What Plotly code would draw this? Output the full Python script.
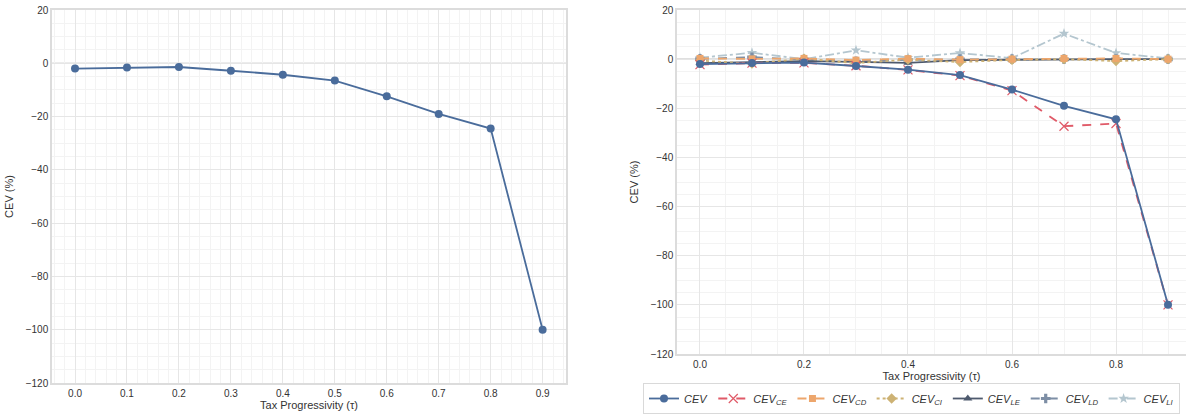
import plotly.graph_objects as go

tau = [0.0, 0.1, 0.2, 0.3, 0.4, 0.5, 0.6, 0.7, 0.8, 0.9]
cev = [-2.0, -1.6, -1.4, -2.8, -4.3, -6.5, -12.4, -19.0, -24.5, -100.0]
cev_ce = [-2.2, -1.6, -1.5, -2.7, -4.4, -6.7, -12.8, -27.3, -26.2, -100.0]
cev_cd = [0.3, 0.1, 0.3, -0.4, 0.2, -0.2, 0.0, 0.3, 0.3, 0.0]
cev_ci = [-0.6, -1.8, 0.2, -1.6, -0.2, -1.2, -0.3, 0.0, -0.8, 0.0]
cev_le = [-1.6, -1.3, -0.8, -1.1, -1.5, -0.4, -0.2, 0.0, 0.0, 0.0]
cev_ld = [0.1, 0.8, -0.2, -0.9, -0.3, 0.0, 0.0, 0.0, 0.0, 0.0]
cev_li = [0.6, 2.6, 0.0, 3.6, 0.6, 2.5, 0.4, 10.4, 2.5, 0.3]

left_ticks = [0.0, 0.1, 0.2, 0.3, 0.4, 0.5, 0.6, 0.7, 0.8, 0.9]
right_ticks = [0.0, 0.2, 0.4, 0.6, 0.8]
y_ticks = [20, 0, -20, -40, -60, -80, -100, -120]

W, H = 1186, 415
font = "Liberation Sans, Arial, sans-serif"

series = [
    ("<i>CEV</i>", cev, "#4a6c9b", "solid", "circle", 8),
    ("<i>CEV</i><sub><i>CE</i></sub>", cev_ce, "#e05a68", "dash", "x-thin-open", 9),
    ("<i>CEV</i><sub><i>CD</i></sub>", cev_cd, "#eda66c", "dash", "square", 7),
    ("<i>CEV</i><sub><i>CI</i></sub>", cev_ci, "#cdb274", "dot", "diamond", 8),
    ("<i>CEV</i><sub><i>LE</i></sub>", cev_le, "#4e5a6e", "solid", "triangle-up", 8),
    ("<i>CEV</i><sub><i>LD</i></sub>", cev_ld, "#7d8ea5", "dash", "cross", 8),
    ("<i>CEV</i><sub><i>LI</i></sub>", cev_li, "#b4c6cf", "dashdot", "star", 8),
]

fig = go.Figure()

fig.add_trace(go.Scatter(x=tau, y=cev, mode="lines+markers", showlegend=False,
                         line=dict(color="#4a6c9b", width=1.8),
                         marker=dict(symbol="circle", size=8, color="#4a6c9b"),
                         xaxis="x", yaxis="y"))

names = [s[0] for s in series]
for name, vals, col, dash, sym, sz in reversed(series):
    mk = dict(symbol=sym, size=sz, color=col)
    if sym == "x-thin-open":
        mk["line"] = dict(color=col, width=1.2)
    fig.add_trace(go.Scatter(x=tau, y=vals, mode="lines+markers", name=name,
                             line=dict(color=col, width=1.8, dash=dash),
                             marker=mk, xaxis="x2", yaxis="y2",
                             legendrank=names.index(name)))

axis_common = dict(
    showgrid=True, gridcolor="#e6e6e6", gridwidth=1,
    showline=True, linecolor="#dcdcdc", linewidth=1.5,
    ticks="", zeroline=False, automargin=False,
    tickfont=dict(family=font, size=10, color="#333333"),
)

fig.update_layout(
    width=W, height=H,
    margin=dict(l=0, r=0, t=0, b=0, autoexpand=False),
    paper_bgcolor="white", plot_bgcolor="white",
    font=dict(family=font, size=11, color="#333333"),
    xaxis=dict(domain=[52 / W, 566 / W], range=[-0.0443, 0.945],
               tickvals=left_ticks, ticktext=[f"{v:.1f}" for v in left_ticks],
               minor=dict(dtick=0.02, tick0=0, showgrid=True, gridcolor="#f3f3f3"),
               mirror=True, anchor="y",
               title=dict(text="Tax Progressivity (τ)", standoff=4,
                          font=dict(family=font, size=11, color="#333333")),
               **axis_common),
    yaxis=dict(domain=[1 - 383 / H, 1 - 10 / H], range=[-120, 20],
               tickvals=y_ticks, ticktext=[str(v).replace("-", "−") for v in y_ticks],
               minor=dict(dtick=5, tick0=0, showgrid=True, gridcolor="#f3f3f3"),
               mirror=True, anchor="x",
               title=dict(text="CEV (%)", standoff=10,
                          font=dict(family=font, size=11, color="#333333")),
               **axis_common),
    xaxis2=dict(domain=[677 / W, 1.0], range=[-0.0442, 0.9346],
                tickvals=right_ticks, ticktext=[f"{v:.1f}" for v in right_ticks],
                minor=dict(dtick=0.05, tick0=0, showgrid=True, gridcolor="#f3f3f3"),
                mirror=True, anchor="y2",
                title=dict(text="Tax Progressivity (τ)", standoff=2,
                           font=dict(family=font, size=11, color="#333333")),
                **axis_common),
    yaxis2=dict(domain=[1 - 354 / H, 1 - 10 / H], range=[-120, 20],
                tickvals=y_ticks, ticktext=[str(v).replace("-", "−") for v in y_ticks],
                minor=dict(dtick=5, tick0=0, showgrid=True, gridcolor="#f3f3f3"),
                mirror=False, anchor="x2",
                title=dict(text="CEV (%)", standoff=10,
                           font=dict(family=font, size=11, color="#333333")),
                **axis_common),
    legend=dict(orientation="h", x=1180 / W, y=1 - 414 / H, xanchor="right", yanchor="bottom",
                bordercolor="#d9d9d9", borderwidth=1, bgcolor="white",
                font=dict(family=font, size=11, color="#333333"),
                itemwidth=30, traceorder="normal"),
)

# zero reference lines
fig.add_shape(type="line", xref="x domain", yref="y", x0=0, x1=1, y0=0, y1=0,
              line=dict(color="#a8a8a8", width=1), layer="below")
fig.add_shape(type="line", xref="x2 domain", yref="y2", x0=0, x1=1, y0=0, y1=0,
              line=dict(color="#a8a8a8", width=1), layer="below")

fig.write_html("out.html")
